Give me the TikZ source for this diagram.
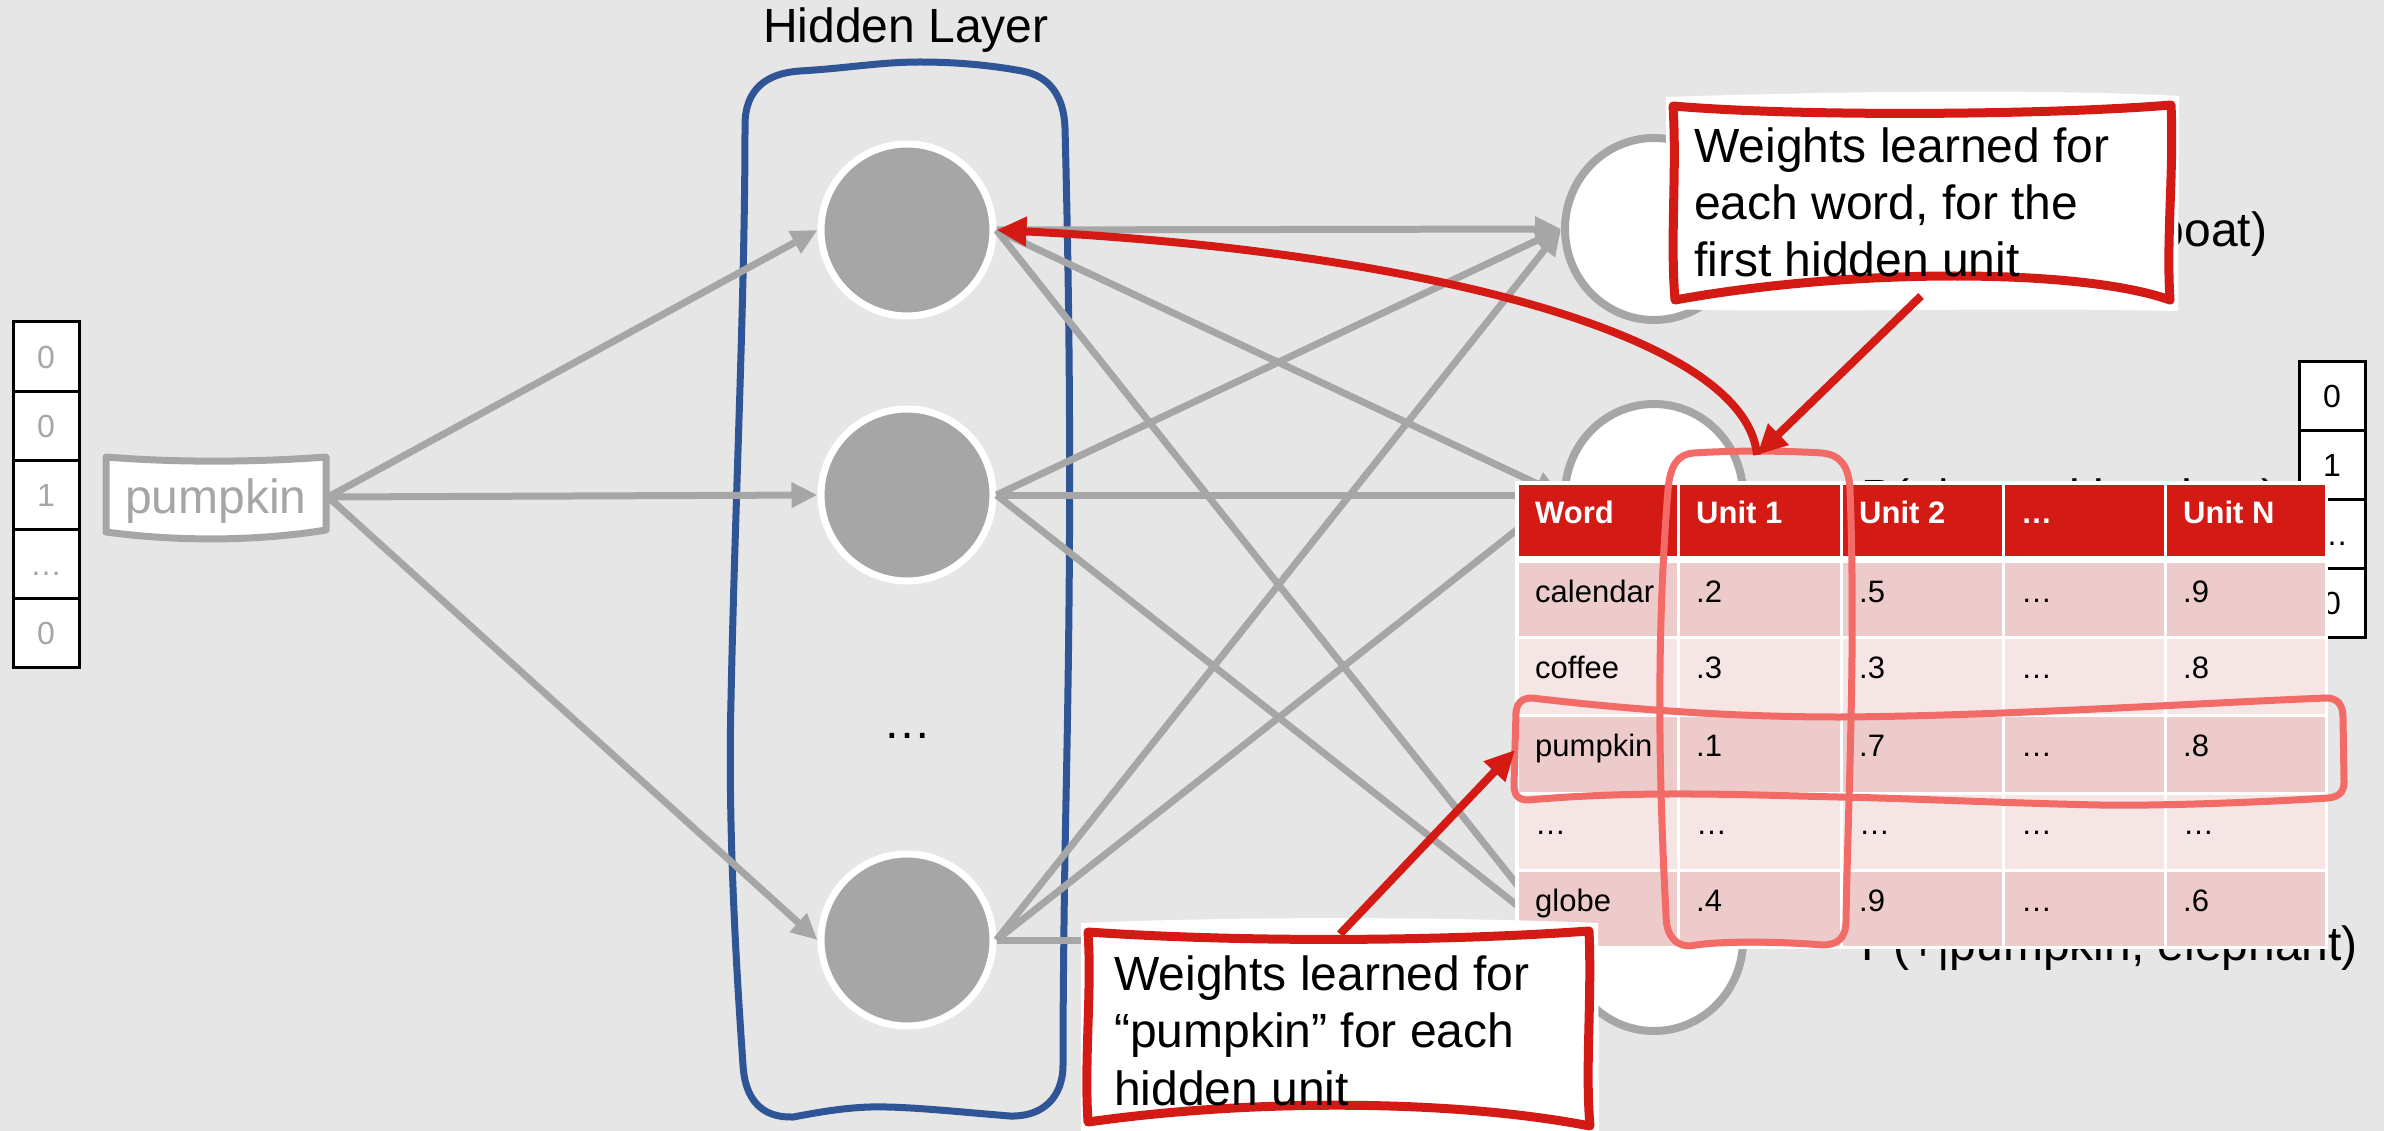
\documentclass[tikz,border=0pt]{standalone}
\usepackage{fontspec}
\setmainfont{Liberation Sans}
\usetikzlibrary{arrows.meta,shapes.geometric}
\definecolor{bggray}{HTML}{E6E6E6}
\definecolor{linegray}{HTML}{A6A6A6}
\definecolor{layerblue}{HTML}{2F5597}
\definecolor{accred}{HTML}{D41A14}
\definecolor{hdrred}{HTML}{D41A14}
\definecolor{hilite}{HTML}{F26B66}
\definecolor{rowodd}{HTML}{EDCBCB}
\definecolor{roweven}{HTML}{F6E5E5}
\begin{document}
\begin{tikzpicture}[x=1pt, y=-1pt,
  conn/.style={draw=linegray, line width=7pt, -{Triangle[length=26pt,width=24pt]}},
  redarrow/.style={draw=accred, line width=8pt, -{Triangle[length=30pt,width=28pt]}},
  hidunit/.style={circle, fill=linegray, draw=white, line width=7pt, minimum size=172pt, inner sep=0pt},
  outunit/.style={ellipse, fill=white, draw=linegray, line width=8pt, minimum width=178pt, minimum height=182pt, inner sep=0pt},
  vcell/.style={rectangle, draw=black, fill=white, line width=3pt, minimum width=66pt, minimum height=69pt, inner sep=0pt, font=\fontsize{32}{38}\selectfont, text height=23pt, text depth=0pt},
  bigtxt/.style={font=\fontsize{48}{57}\selectfont, inner sep=0pt},
  celltxt/.style={font=\fontsize{31}{37}\selectfont, inner sep=0pt, anchor=base west},
  hdrtxt/.style={celltxt, font=\fontsize{31}{37}\selectfont\bfseries, text=white},
  markup/.style={draw=hilite, line width=7pt, line join=round},
  calloutedge/.style={draw=accred, line width=9pt, line join=round},
]
\useasboundingbox (0,0) rectangle (2384,1131);
\fill[bggray] (0,0) rectangle (2384,1131);
\clip (0,0) rectangle (2384,1131);

% hidden layer frame
\draw[layerblue, line width=7pt, line join=round]
  (745,125) .. controls (745,88) and (768,73) .. (800,71)
  .. controls (850,68) and (880,62) .. (920,62)
  .. controls (960,62) and (995,66) .. (1022,71)
  .. controls (1050,76) and (1064,97) .. (1065,128)
  .. controls (1072,400) and (1070,600) .. (1066,800)
  .. controls (1064,900) and (1063,1000) .. (1063,1065)
  .. controls (1063,1098) and (1042,1117) .. (1010,1116)
  .. controls (960,1112) and (905,1106) .. (870,1107)
  .. controls (840,1108) and (815,1113) .. (793,1117)
  .. controls (762,1118) and (745,1100) .. (743,1065)
  .. controls (735,950) and (728,820) .. (731,700)
  .. controls (735,500) and (745,300) .. (745,125) -- cycle;
\node[bigtxt, anchor=base] (layerlabel) at (906,43) {Hidden Layer};

% one-hot input vector
\foreach \lbl [count=\i] in {0,0,1,…,0}
  \node[vcell, text=linegray] (in\i) at (46,{356.5+69*(\i-1)}) {\lbl};

% input word
\draw[linegray, line width=7pt, fill=white, line join=round]
  (106,457) .. controls (180,463) and (260,462) .. (326,457)
  -- (326,530) .. controls (260,541) and (180,542) .. (106,532) -- cycle;
\node[minimum width=224pt, minimum height=80pt, inner sep=0pt, text=linegray,
      font=\fontsize{48}{57}\selectfont, text height=33pt, text depth=0pt] (pumpkin) at (216,497) {pumpkin};

% hidden units
\node[hidunit] (h1) at (907,230) {};
\node[hidunit] (h2) at (907,495) {};
\node[hidunit] (h3) at (907,940) {};
\node[bigtxt, anchor=base] (hdots) at (907,738) {…};

% output units
\node[outunit] (o1) at (1654,229) {};
\node[outunit] (o2) at (1654,495) {};
\node[outunit] (o3) at (1654,940) {};

% connections
\foreach \s in {1,2,3}
  \draw[conn] (pumpkin.east) -- (h\s.west);
\foreach \s in {1,2,3}
  \foreach \t in {1,2,3}
    \draw[conn] (h\s.east) -- (o\t.west);

% output labels
\node[bigtxt, anchor=base west] (p1) at (1861,247) {P(+|pumpkin, boat)};
\node[bigtxt, anchor=base west] (p2) at (1861,513) {P(+|pumpkin, shoe)};
\node[bigtxt, anchor=base west] (p3) at (1861,960) {P(+|pumpkin, elephant)};

% target vector
\foreach \lbl [count=\i] in {0,1,…,0}
  \node[vcell] (out\i) at (2332,{396+69*(\i-1)}) {\lbl};

% weight table
\fill[white] (1515,481) rectangle (2328,949);
\fill[hdrred] (1518.5,484.5) rectangle (2324.5,556);
\foreach \t/\b/\c in {561/637/rowodd, 637/715/roweven, 715/793/rowodd, 793/870/roweven, 870/947/rowodd}
  \fill[\c] (1518.5,\t+1.5) rectangle (2324.5,\b-1.5);
\foreach \x in {1678,1841,2003,2165}
  \fill[white] (\x-1.5,481) rectangle (\x+1.5,949);
\foreach \txt/\x [count=\i] in {Word/1535, Unit 1/1696, Unit 2/1859, …/2021, Unit N/2183}
  \node[hdrtxt] (th\i) at (\x,523) {\txt};
\foreach \a/\b/\c/\d/\e/\y [count=\r] in {calendar/.2/.5/…/.9/602, coffee/.3/.3/…/.8/678, pumpkin/.1/.7/…/.8/756, …/…/…/…/…/834, globe/.4/.9/…/.6/911} {
  \node[celltxt] (r\r-1) at (1535,\y) {\a};
  \node[celltxt] (r\r-2) at (1696,\y) {\b};
  \node[celltxt] (r\r-3) at (1859,\y) {\c};
  \node[celltxt] (r\r-4) at (2021,\y) {\d};
  \node[celltxt] (r\r-5) at (2183,\y) {\e};
}

% hand-drawn highlights
\draw[markup]
  (1694,453) .. controls (1740,450) and (1790,451) .. (1822,453)
  .. controls (1842,455) and (1849,468) .. (1850,490)
  .. controls (1856,650) and (1848,800) .. (1846,920)
  .. controls (1846,938) and (1838,945) .. (1822,945)
  .. controls (1790,942) and (1720,940) .. (1690,946)
  .. controls (1675,946) and (1666,935) .. (1666,915)
  .. controls (1660,800) and (1655,650) .. (1668,490)
  .. controls (1670,465) and (1678,454) .. (1694,453) -- cycle;
\draw[markup]
  (1532,698) .. controls (1650,712) and (1750,717) .. (1840,717)
  .. controls (2000,716) and (2200,703) .. (2326,698)
  .. controls (2338,698) and (2343,705) .. (2343,718)
  -- (2344,782)
  .. controls (2344,793) and (2338,797) .. (2328,798)
  .. controls (2250,803) and (2150,806) .. (2100,805)
  .. controls (2000,803) and (1900,798) .. (1838,797)
  .. controls (1750,795) and (1640,790) .. (1528,800)
  .. controls (1518,800) and (1514,795) .. (1514,785)
  -- (1516,712)
  .. controls (1517,703) and (1522,698) .. (1532,698) -- cycle;

% callouts
\fill[white] (1666,97) .. controls (1850,91) and (2050,89) .. (2179,96)
  -- (2178,311) .. controls (2000,307) and (1800,313) .. (1666,309) -- cycle;
\draw[calloutedge]
  (1673,106) .. controls (1800,117) and (2050,115) .. (2171,105)
  .. controls (2174,170) and (2166,240) .. (2170,300)
  .. controls (2080,268) and (1850,268) .. (1675,300)
  .. controls (1670,240) and (1677,170) .. (1673,106) -- cycle;
\node[bigtxt, anchor=base west] (noteA1) at (1694,163) {Weights learned for};
\node[bigtxt, anchor=base west] (noteA2) at (1694,220) {each word, for the};
\node[bigtxt, anchor=base west] (noteA3) at (1694,277) {first hidden unit};

\fill[white] (1081,923) .. controls (1250,916) and (1450,917) .. (1598,923)
  -- (1599,1140) -- (1081,1140) -- cycle;
\draw[calloutedge]
  (1088,932) .. controls (1250,943) and (1450,941) .. (1589,931)
  .. controls (1592,1000) and (1585,1070) .. (1590,1126)
  .. controls (1450,1099) and (1250,1099) .. (1088,1122)
  .. controls (1084,1060) and (1092,990) .. (1088,932) -- cycle;
\node[bigtxt, anchor=base west] (noteB1) at (1114,990) {Weights learned for};
\node[bigtxt, anchor=base west] (noteB2) at (1114,1047) {“pumpkin” for each};
\node[bigtxt, anchor=base west] (noteB3) at (1114,1105) {hidden unit};

% pointers
\coordinate (colTop) at (1757,455);
\coordinate (rowLeft) at (1515,750);
\coordinate (tailA) at (1921,296);
\coordinate (tailB) at (1340,934);
\draw[redarrow] (colTop) .. controls (1745,330) and (1400,250) .. (h1.east);
\draw[redarrow] (tailA) -- (colTop);
\draw[redarrow] (tailB) -- (rowLeft);
\end{tikzpicture}
\end{document}
